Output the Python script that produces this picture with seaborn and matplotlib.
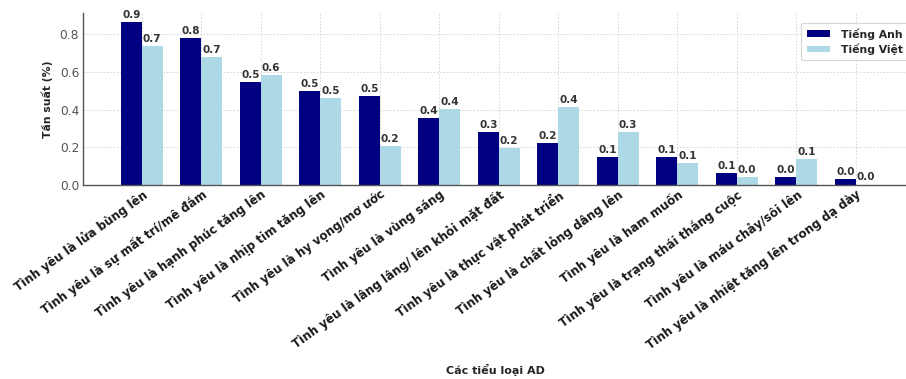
import matplotlib
matplotlib.use("Agg")
import matplotlib.pyplot as plt
from matplotlib.patches import Patch
import seaborn as sns
import pandas as pd

categories = [
    "Tình yêu là lửa bùng lên",
    "Tình yêu là sự mất trí/mê đắm",
    "Tình yêu là hạnh phúc tăng lên",
    "Tình yêu là nhịp tim tăng lên",
    "Tình yêu là hy vọng/mơ ước",
    "Tình yêu là vùng sáng",
    "Tình yêu là lâng lâng/ lên khỏi mặt đất",
    "Tình yêu là thực vật phát triển",
    "Tình yêu là chất lỏng dâng lên",
    "Tình yêu là ham muốn",
    "Tình yêu là trạng thái thắng cuộc",
    "Tình yêu là máu chảy/sôi lên",
    "Tình yêu là nhiệt tăng lên trong dạ dày",
]
tieng_anh = [0.866, 0.778, 0.545, 0.500, 0.470, 0.354, 0.280, 0.221, 0.147, 0.147, 0.062, 0.044, 0.030]
tieng_viet = [0.737, 0.681, 0.584, 0.460, 0.209, 0.403, 0.198, 0.415, 0.280, 0.115, 0.044, 0.140, 0.002]
series_names = ["Tiếng Anh", "Tiếng Việt"]
palette = {"Tiếng Anh": "#000080", "Tiếng Việt": "#ADD8E6"}

df = pd.DataFrame({
    "category": categories * 2,
    "value": tieng_anh + tieng_viet,
    "series": [series_names[0]] * len(categories) + [series_names[1]] * len(categories),
})

sns.set_style("white")
plt.rcParams["font.family"] = ["DejaVu Sans"]

fig = plt.figure(figsize=(9.06, 3.79), dpi=100)
ax = fig.add_axes([0.092, 0.512, 0.917, 0.454])

sns.barplot(data=df, x="category", y="value", hue="series", palette=palette,
            width=0.7, gap=0, saturation=1, linewidth=0, ax=ax, legend=False)

for cont, vals in zip(ax.containers, [tieng_anh, tieng_viet]):
    ax.bar_label(cont, labels=[f"{v:.1f}" for v in vals], padding=1.5,
                 fontsize=7.5, fontweight="bold", color="#333333")

ax.set_xlim(-0.98, 12.98)
ax.set_ylim(0, max(tieng_anh) * 1.055)
ax.set_yticks([0.0, 0.2, 0.4, 0.6, 0.8])
ax.set_yticklabels(["0.0", "0.2", "0.4", "0.6", "0.8"])
ax.tick_params(axis="y", labelsize=8.8, colors="#555555", length=0, pad=3)
ax.tick_params(axis="x", length=0, pad=2)
ax.set_xticks(range(len(categories)))
ax.set_xticklabels(categories, rotation=36, ha="right", rotation_mode="anchor",
                   fontsize=8.6, fontweight="bold", color="#1a1a1a")

ax.grid(True, color="#d0d0d0", linestyle=(0, (2, 2)), linewidth=0.6)
ax.set_axisbelow(True)
for side in ["top", "right"]:
    ax.spines[side].set_visible(False)
for side in ["left", "bottom"]:
    ax.spines[side].set_color("#555555")
    ax.spines[side].set_linewidth(1.0)

ax.set_ylabel("Tần suất (%)", fontsize=7.8, fontweight="bold", labelpad=5)
ax.set_xlabel("Các tiểu loại AD", fontsize=8, fontweight="bold", labelpad=0)
ax.xaxis.set_label_coords(0.496, -1.04)

handles = [Patch(facecolor=palette[s], edgecolor="none") for s in series_names]
leg = ax.legend(handles, series_names, loc="upper right", bbox_to_anchor=(1.0, 0.975),
                prop={"weight": "bold", "size": 7.8}, frameon=True, handlelength=2.2,
                handleheight=0.6, borderpad=0.5, labelspacing=0.35, handletextpad=1.0)
leg.get_frame().set_edgecolor("#cccccc")
leg.get_frame().set_linewidth(0.8)

fig.savefig("out.png", dpi=100)
